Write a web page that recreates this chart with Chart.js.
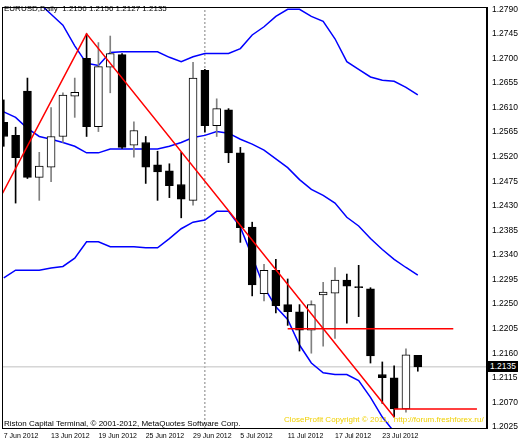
<!DOCTYPE html>
<html>
<head>
<meta charset="utf-8">
<script src="https://cdn.jsdelivr.net/npm/chart.js@4.4.0/dist/chart.umd.min.js"></script>
<style>
  html, body { margin: 0; padding: 0; background: #fff; }
  #wrap { position: relative; width: 518px; height: 444px; }
  .txt { position: absolute; font: 8px "Liberation Sans", sans-serif; white-space: nowrap; color: #000; }
</style>
</head>
<body>
<div id="wrap">
  <canvas id="c" width="518" height="444"></canvas>
  <div class="txt" style="left:4px;top:4px;">EURUSD,Daily &nbsp;1.2156 1.2156 1.2127 1.2135</div>
  <div class="txt" style="left:4px;top:419px;">Riston Capital Terminal, © 2001-2012, MetaQuotes Software Corp.</div>
  <div class="txt" style="left:284px;top:415px;color:#f0d000;">CloseProfit Copyright © 2011, &nbsp;http://forum.freshforex.ru/</div>
  <div class="txt" style="left:488px;top:361px;background:#000;color:#fff;padding:0 2px;line-height:11px;font-size:8.5px;">1.2135</div>
</div>
<script>
// ── Data ──────────────────────────────────────────
const opens  = [1.2583,1.2559,1.2640,1.2482,1.2501,1.2557,1.2631,1.2700,1.2575,1.2684,1.2707,1.2541,1.2546,1.2505,1.2494,1.2469,1.2440,1.2678,1.2577,1.2606,1.2527,1.2391,1.2269,1.2312,1.2249,1.2236,1.2202,1.2267,1.2270,1.2294,1.2282,1.2278,1.2121,1.2115,1.2058,1.2156];
const highs  = [1.2624,1.2574,1.2664,1.2528,1.2610,1.2637,1.2664,1.2745,1.2729,1.2741,1.2709,1.2584,1.2557,1.2530,1.2507,1.2528,1.2693,1.2680,1.2626,1.2608,1.2537,1.2400,1.2323,1.2332,1.2296,1.2249,1.2256,1.2290,1.2317,1.2305,1.2321,1.2280,1.2144,1.2137,1.2168,1.2156];
const lows   = [1.2539,1.2435,1.2480,1.2440,1.2474,1.2546,1.2592,1.2557,1.2566,1.2637,1.2535,1.2519,1.2471,1.2440,1.2445,1.2408,1.2431,1.2565,1.2557,1.2509,1.2363,1.2265,1.2256,1.2234,1.2211,1.2164,1.2160,1.2173,1.2187,1.2215,1.2227,1.2142,1.2068,1.2043,1.2052,1.2127];
const closes = [1.2557,1.2518,1.2482,1.2503,1.2557,1.2633,1.2638,1.2575,1.2685,1.2709,1.2537,1.2568,1.2501,1.2492,1.2467,1.2442,1.2664,1.2577,1.2608,1.2527,1.2390,1.2285,1.2312,1.2247,1.2236,1.2202,1.2249,1.2272,1.2294,1.2283,1.2280,1.2155,1.2115,1.2058,1.2157,1.2135];

const bbUpper  = [1.2850,1.2835,1.2818,1.2801,1.2781,1.2761,1.2723,1.2691,1.2687,1.2711,1.2712,1.2712,1.2712,1.2712,1.2702,1.2694,1.2703,1.2709,1.2709,1.2709,1.2718,1.2743,1.2758,1.2777,1.2790,1.2790,1.2777,1.2768,1.2736,1.2694,1.2680,1.2666,1.2660,1.2658,1.2647,1.2633];
const bbMiddle = [1.2602,1.2592,1.2572,1.2557,1.2552,1.2546,1.2539,1.2527,1.2527,1.2534,1.2534,1.2534,1.2534,1.2534,1.2539,1.2546,1.2555,1.2559,1.2566,1.2563,1.2552,1.2543,1.2532,1.2516,1.2500,1.2478,1.2460,1.2449,1.2435,1.2409,1.2393,1.2370,1.2350,1.2332,1.2317,1.2303];
const bbLower  = [1.2298,1.2312,1.2312,1.2312,1.2316,1.2319,1.2334,1.2364,1.2364,1.2355,1.2355,1.2355,1.2353,1.2353,1.2370,1.2388,1.2400,1.2404,1.2420,1.2420,1.2391,1.2337,1.2281,1.2245,1.2222,1.2175,1.2142,1.2124,1.2121,1.2121,1.2110,1.2079,1.2043,1.2016,1.1995,1.1975];

const zigzagX = [-0.1, 7, 33];
const zigzagY = [1.2453, 1.2745, 1.2043];
const levelUpper = { from: 24, to: 38, price: 1.2205 };
const levelLower = { from: 33, to: 40, price: 1.2058 };
const lastPrice = 1.2135;
const separatorBar = 17;

const dateTicks = [0, 4, 8, 12, 16, 20, 24, 28, 32];
const dateLabels = ['7 Jun 2012','13 Jun 2012','19 Jun 2012','25 Jun 2012','29 Jun 2012','5 Jul 2012','11 Jul 2012','17 Jul 2012','23 Jul 2012'];
const priceTicks = [1.2025,1.2070,1.2115,1.2160,1.2205,1.2250,1.2295,1.2340,1.2385,1.2430,1.2475,1.2520,1.2565,1.2610,1.2655,1.2700,1.2745,1.2790];

// ── Chart ──────────────────────────────────────────
const X_MIN = -0.15, X_MAX = 40.85, Y_MIN = 1.2023, Y_MAX = 1.2794;

const idx = opens.map((_, i) => i);
const line = (xs, ys) => xs.map((x, i) => ({ x, y: ys[i] }));

const frame = {
  id: 'frame',
  afterDraw(chart) {
    const { ctx, chartArea: a } = chart;
    ctx.save();
    ctx.strokeStyle = '#000'; ctx.lineWidth = 1;
    ctx.strokeRect(Math.round(a.left) + 0.5, Math.round(a.top) + 0.5, Math.round(a.right - a.left) - 1, Math.round(a.bottom - a.top));
    ctx.restore();
  }
};

Chart.defaults.font.family = 'Liberation Sans';
Chart.defaults.font.size = 8.5;
Chart.defaults.color = '#000';

new Chart(document.getElementById('c'), {
  type: 'bar',
  data: {
    datasets: [
      { type: 'line', data: line(zigzagX, zigzagY), borderColor: '#ff0000', borderWidth: 1.5, pointRadius: 0, order: 0 },
      { type: 'line', data: [{x: levelUpper.from, y: levelUpper.price}, {x: levelUpper.to, y: levelUpper.price}], borderColor: '#ff0000', borderWidth: 1.5, pointRadius: 0, order: 0 },
      { type: 'line', data: [{x: levelLower.from, y: levelLower.price}, {x: levelLower.to, y: levelLower.price}], borderColor: '#ff0000', borderWidth: 1.5, pointRadius: 0, order: 0 },
      { data: idx.map(i => ({ x: i, y: [Math.min(opens[i], closes[i]), Math.max(opens[i], closes[i])] })),
        backgroundColor: idx.map(i => closes[i] >= opens[i] ? '#fff' : '#000'),
        borderColor: '#000', borderWidth: 1, borderSkipped: false, barThickness: 8, minBarLength: 1, order: 1, grouped: false },
      { data: idx.map(i => ({ x: i, y: [lows[i], highs[i]] })),
        backgroundColor: idx.map(i => closes[i] >= opens[i] ? '#808080' : '#000'), borderWidth: 0, barThickness: 1, order: 2, grouped: false },
      { type: 'line', data: line(idx, bbUpper), borderColor: '#0000ff', borderWidth: 1.5, pointRadius: 0, order: 3 },
      { type: 'line', data: line(idx, bbMiddle), borderColor: '#0000ff', borderWidth: 1.5, pointRadius: 0, order: 3 },
      { type: 'line', data: line(idx, bbLower), borderColor: '#0000ff', borderWidth: 1.5, pointRadius: 0, order: 3 },
      { type: 'line', data: [{x: X_MIN, y: lastPrice}, {x: X_MAX, y: lastPrice}], borderColor: '#c0c0c0', borderWidth: 1, pointRadius: 0, order: 4 },
      { type: 'line', data: [{x: separatorBar, y: Y_MIN}, {x: separatorBar, y: Y_MAX}], borderColor: '#808080', borderWidth: 1, borderDash: [2, 2], pointRadius: 0, order: 4 }
    ]
  },
  options: {
    responsive: false, animation: false,
    layout: { padding: { left: 2, top: 1, right: 0, bottom: 0 } },
    plugins: { legend: { display: false }, tooltip: { enabled: false } },
    scales: {
      x: {
        type: 'linear', min: X_MIN, max: X_MAX, offset: false,
        afterBuildTicks: s => { s.ticks = dateTicks.map(v => ({ value: v })); },
        afterFit: s => { s.height = 16; },
        grid: { display: false, drawTicks: true, tickLength: 3 },
        border: { display: false },
        ticks: { autoSkip: false, maxRotation: 0, align: 'start', padding: 1, font: { size: 7 }, callback: (v) => dateLabels[dateTicks.indexOf(v)] }
      },
      y: {
        position: 'right', min: Y_MIN, max: Y_MAX,
        afterBuildTicks: s => { s.ticks = priceTicks.map(v => ({ value: v })); },
        afterFit: s => { s.width = 31; },
        grid: { display: false, drawTicks: true, tickLength: 3 },
        border: { display: true, color: '#000' },
        ticks: { autoSkip: false, padding: 2, callback: v => v.toFixed(4) }
      }
    }
  },
  plugins: [frame]
});
</script>
</body>
</html>
